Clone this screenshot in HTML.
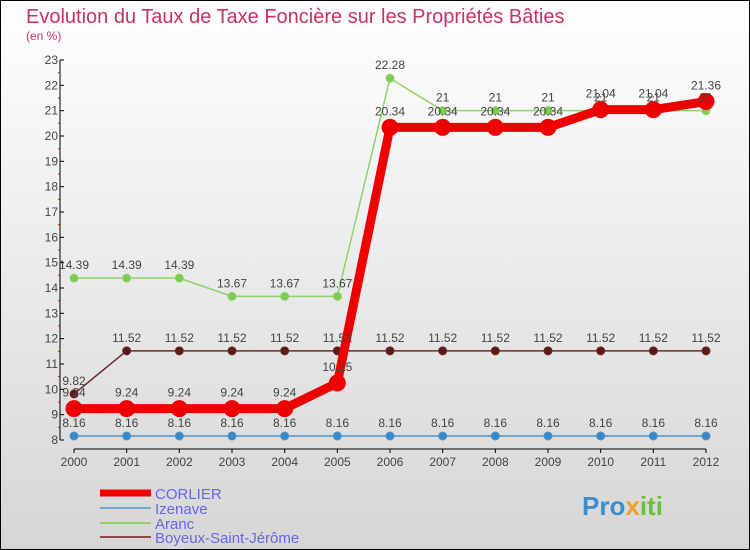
<!DOCTYPE html>
<html><head><meta charset="utf-8"><style>
body{margin:0;width:750px;height:550px;overflow:hidden}
svg{display:block;font-family:"Liberation Sans",sans-serif}
</style></head><body>
<svg id="chart" width="750" height="550">
<defs><linearGradient id="bg" x1="0" y1="0" x2="0" y2="1"><stop offset="0" stop-color="#ffffff"/><stop offset="1" stop-color="#d6d6d6"/></linearGradient></defs>
<rect x="0.5" y="0.5" width="749" height="549" fill="url(#bg)" stroke="#000"/>
<text x="26" y="23" font-size="20" fill="#c8306a">Evolution du Taux de Taxe Foncière sur les Propriétés Bâties</text>
<text x="26" y="40" font-size="12" fill="#c8306a">(en %)</text>
<g id="axes"></g><g id="series"></g><g id="labels"></g>
<g>
<line x1="100" y1="493" x2="151" y2="493" stroke="#e00" stroke-width="7"/>
<text x="155" y="499" font-size="15" fill="#6666ee">CORLIER</text>
<line x1="100" y1="508" x2="151" y2="508" stroke="#6fa8cf" stroke-width="2"/>
<text x="155" y="514" font-size="15" fill="#6666ee">Izenave</text>
<line x1="100" y1="523" x2="151" y2="523" stroke="#8fd46a" stroke-width="2"/>
<text x="155" y="529" font-size="15" fill="#6666ee">Aranc</text>
<line x1="100" y1="537" x2="151" y2="537" stroke="#8a4a4a" stroke-width="2"/>
<text x="155" y="543" font-size="15" fill="#6666ee">Boyeux-Saint-Jérôme</text>
</g>
<text x="582" y="515" font-size="26" font-weight="bold" fill="#3a8fd0">Pro<tspan fill="#f0a020">x</tspan><tspan fill="#6cbf3a">iti</tspan></text>
</svg>
<script>
const years=[2000,2001,2002,2003,2004,2005,2006,2007,2008,2009,2010,2011,2012];
const corlier=[9.24,9.24,9.24,9.24,9.24,10.25,20.34,20.34,20.34,20.34,21.04,21.04,21.36];
const izenave=[8.16,8.16,8.16,8.16,8.16,8.16,8.16,8.16,8.16,8.16,8.16,8.16,8.16];
const aranc=[14.39,14.39,14.39,13.67,13.67,13.67,22.28,21,21,21,21,21,21];
const boyeux=[9.82,11.52,11.52,11.52,11.52,11.52,11.52,11.52,11.52,11.52,11.52,11.52,11.52];
const yTicks=[8,9,10,11,12,13,14,15,16,17,18,19,20,21,22,23];
const NS='http://www.w3.org/2000/svg';
const xS=i=>74+i*(706-74)/(years.length-1);
const yS=v=>440-(v-8)*(380/15);
function mk(tag,attrs,parent){const e=document.createElementNS(NS,tag);for(const k in attrs)e.setAttribute(k,attrs[k]);parent.appendChild(e);return e;}
const ax=document.getElementById('axes'),se=document.getElementById('series'),lb=document.getElementById('labels');
let a=mk('line',{x1:60,y1:yS(23),x2:60,y2:yS(8),stroke:'#000','stroke-width':1},ax);


a=mk('line',{x1:74,y1:449,x2:706,y2:449,stroke:'#000','stroke-width':1},ax);


yTicks.forEach((v,i)=>{
 mk('line',{x1:60,y1:yS(v),x2:64,y2:yS(v),stroke:'#000'},ax);
 if(i<yTicks.length-1)mk('line',{x1:58,y1:yS(v+0.5),x2:60,y2:yS(v+0.5),stroke:'#e00'},ax);
 const t=mk('text',{x:58,y:yS(v)+4,'font-size':12,fill:'#444','text-anchor':'end'},ax);t.textContent=v;
 
 
});
years.forEach((y,i)=>{
 mk('line',{x1:xS(i),y1:449,x2:xS(i),y2:453,stroke:'#000'},ax);
 const t=mk('text',{x:xS(i),y:466,'font-size':12,fill:'#444','text-anchor':'middle'},ax);t.textContent=y;
 
 
});
function series(vals,color,w,r,fill,name,labelDy){
 const pts=vals.map((v,i)=>xS(i)+','+yS(v)).join(' ');
 const p=mk('polyline',{points:pts,fill:'none',stroke:color,'stroke-width':w,'stroke-linejoin':'round'},se);
 
 
 vals.forEach((v,i)=>{
  const c=mk('circle',{cx:xS(i),cy:yS(v),r:r,fill:fill,stroke:color,'stroke-width':1},se);
  
  
  const t=mk('text',{x:xS(i),y:yS(v)+labelDy,'font-size':12,fill:'#444','text-anchor':'middle'},lb);
  t.textContent=String(v);
  
  
 });
}
series(izenave,'#4a94cc',1.5,4,'#3a88c8','izenave',-9);
series(aranc,'#8fd46a',1.5,4,'#7ccc50','aranc',-9);
series(boyeux,'#6a2a2a',1.5,4,'#5a1a1a','boyeux',-9);
series(corlier,'#ee0000',9,8,'#ee0000','corlier',-12);
</script>
</body></html>
